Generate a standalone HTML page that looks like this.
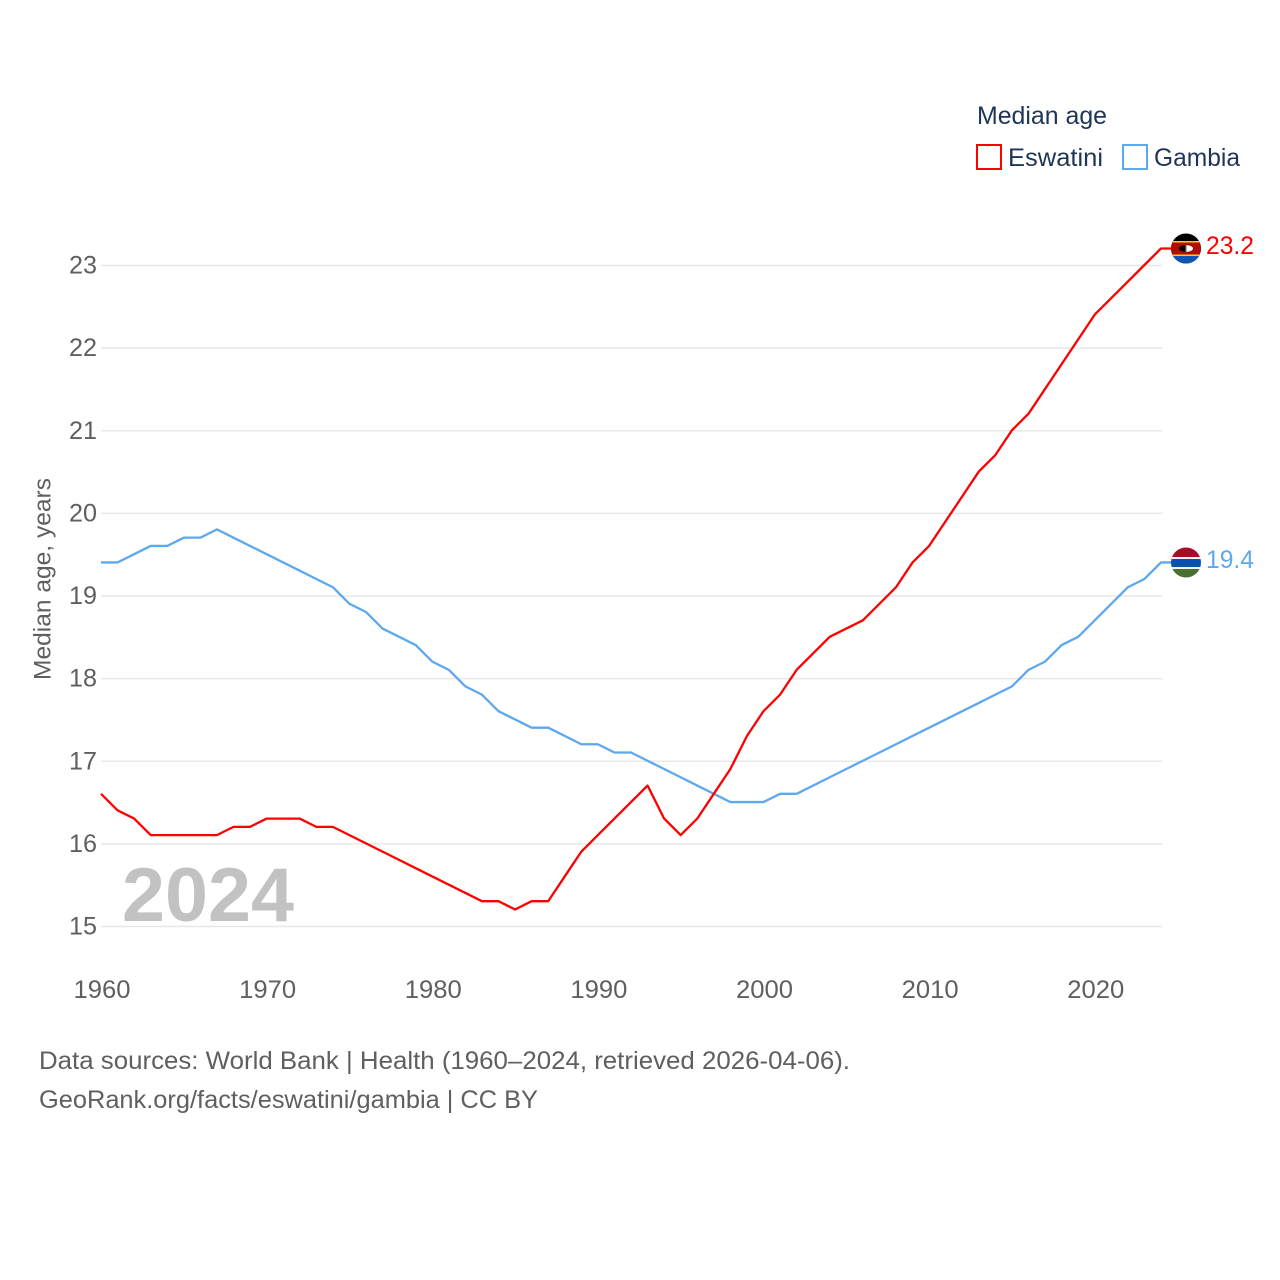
<!DOCTYPE html>
<html>
<head>
<meta charset="utf-8">
<title>Median age: Eswatini and Gambia</title>
<style>
html,body{margin:0;padding:0;background:#fff;}
svg{display:block;}
text{font-family:"Liberation Sans",sans-serif;}
</style>
</head>
<body>
<svg id="chart" xmlns="http://www.w3.org/2000/svg" width="1280" height="1280" viewBox="0 0 1280 1280">
  <defs>
    <clipPath id="clip-esw"><circle cx="1186" cy="248.5" r="15"/></clipPath>
    <clipPath id="clip-gam"><circle cx="1186" cy="562.5" r="15"/></clipPath>
  </defs>
  <rect width="1280" height="1280" fill="#ffffff"/>
  <g id="grid"></g>
  <g id="yticks"></g>
  <g id="xticks"></g>
  <text x="122" y="921" font-size="76" font-weight="700" fill="#c2c2c2" textLength="172" lengthAdjust="spacingAndGlyphs">2024</text>
  <text transform="translate(50.5 680) rotate(-90)" font-size="24.5" fill="#5f5f5f" textLength="202" lengthAdjust="spacingAndGlyphs">Median age, years</text>
  <g id="series"></g>

  <g clip-path="url(#clip-esw)">
    <rect x="1171" y="233" width="30" height="31" fill="#000000"/>
    <rect x="1171" y="241" width="30" height="1.5" fill="#f5d000"/>
    <rect x="1171" y="242.5" width="30" height="12" fill="#b10c0c"/>
    <rect x="1171" y="254.5" width="30" height="1.5" fill="#f5d000"/>
    <rect x="1171" y="256" width="30" height="9" fill="#0f55b4"/>
    <ellipse cx="1186" cy="248.5" rx="7" ry="3.4" fill="#000000"/>
    <path d="M1186 245.1a7 3.4 0 0 1 0 6.8z" fill="#ffffff"/>
    <rect x="1185" y="245.5" width="1.5" height="6" fill="#555555"/>
  </g>
  <g clip-path="url(#clip-gam)">
    <rect x="1171" y="547" width="30" height="10" fill="#a60d26"/>
    <rect x="1171" y="557" width="30" height="2" fill="#f2f2f2"/>
    <rect x="1171" y="559" width="30" height="8" fill="#0a50ad"/>
    <rect x="1171" y="567" width="30" height="2" fill="#f2f2f2"/>
    <rect x="1171" y="569" width="30" height="10" fill="#4a7030"/>
  </g>
  <text x="1206" y="254" font-size="25" fill="#ff0000" textLength="48" lengthAdjust="spacingAndGlyphs">23.2</text>
  <text x="1206" y="568" font-size="25" fill="#5ea8ee" textLength="48" lengthAdjust="spacingAndGlyphs">19.4</text>

  <g>
    <text x="977" y="124" font-size="25" fill="#1d3557" textLength="130" lengthAdjust="spacingAndGlyphs">Median age</text>
    <rect x="977" y="145" width="24" height="24" fill="none" stroke="#ff0000" stroke-width="2"/>
    <text x="1008" y="166" font-size="25" fill="#1d3557" textLength="95" lengthAdjust="spacingAndGlyphs">Eswatini</text>
    <rect x="1123" y="145" width="24" height="24" fill="none" stroke="#5ea8ee" stroke-width="2"/>
    <text x="1154" y="166" font-size="25" fill="#1d3557" textLength="86" lengthAdjust="spacingAndGlyphs">Gambia</text>
  </g>

  <text x="39" y="1069" font-size="25" fill="#5f5f5f" textLength="811" lengthAdjust="spacingAndGlyphs">Data sources: World Bank | Health (1960–2024, retrieved 2026-04-06).</text>
  <text x="39" y="1108" font-size="25" fill="#5f5f5f" textLength="499" lengthAdjust="spacingAndGlyphs">GeoRank.org/facts/eswatini/gambia | CC BY</text>
</svg>
<script>
const firstYear = 1960;
const eswatiniValues = [16.6,16.4,16.3,16.1,16.1,16.1,16.1,16.1,16.2,16.2,16.3,16.3,16.3,16.2,16.2,16.1,16.0,15.9,15.8,15.7,15.6,15.5,15.4,15.3,15.3,15.2,15.3,15.3,15.6,15.9,16.1,16.3,16.5,16.7,16.3,16.1,16.3,16.6,16.9,17.3,17.6,17.8,18.1,18.3,18.5,18.6,18.7,18.9,19.1,19.4,19.6,19.9,20.2,20.5,20.7,21.0,21.2,21.5,21.8,22.1,22.4,22.6,22.8,23.0,23.2];
const gambiaValues = [19.4,19.4,19.5,19.6,19.6,19.7,19.7,19.8,19.7,19.6,19.5,19.4,19.3,19.2,19.1,18.9,18.8,18.6,18.5,18.4,18.2,18.1,17.9,17.8,17.6,17.5,17.4,17.4,17.3,17.2,17.2,17.1,17.1,17.0,16.9,16.8,16.7,16.6,16.5,16.5,16.5,16.6,16.6,16.7,16.8,16.9,17.0,17.1,17.2,17.3,17.4,17.5,17.6,17.7,17.8,17.9,18.1,18.2,18.4,18.5,18.7,18.9,19.1,19.2,19.4];
const yTickValues = [15,16,17,18,19,20,21,22,23];
const xTickYears = [1960,1970,1980,1990,2000,2010,2020];

const NS = 'http://www.w3.org/2000/svg';
function xScale(year){ return 101 + (year - 1960) * (1060 / 64); }
function yScale(v){ return 926.5 - (v - 15) * (661 / 8); }

const gridGroup = document.getElementById('grid');
const yGroup = document.getElementById('yticks');
const xGroup = document.getElementById('xticks');
const seriesGroup = document.getElementById('series');

yTickValues.forEach(function(v){
  const line = document.createElementNS(NS, 'line');
  
  
  line.setAttribute('x1', 101);
  line.setAttribute('x2', 1162);
  line.setAttribute('y1', yScale(v));
  line.setAttribute('y2', yScale(v));
  line.setAttribute('stroke', '#e8e8e8');
  line.setAttribute('stroke-width', '1.5');
  gridGroup.appendChild(line);

  const label = document.createElementNS(NS, 'text');
  
  
  label.setAttribute('x', 69);
  label.setAttribute('y', yScale(v) + 8);
  label.setAttribute('font-size', '25');
  label.setAttribute('fill', '#5f5f5f');
  label.setAttribute('textLength', '28');
  label.setAttribute('lengthAdjust', 'spacingAndGlyphs');
  label.textContent = String(v);
  yGroup.appendChild(label);
});

xTickYears.forEach(function(year){
  const label = document.createElementNS(NS, 'text');
  
  
  label.setAttribute('x', xScale(year) - 27.5);
  label.setAttribute('y', 998);
  label.setAttribute('font-size', '25');
  label.setAttribute('fill', '#5f5f5f');
  label.setAttribute('textLength', '57');
  label.setAttribute('lengthAdjust', 'spacingAndGlyphs');
  label.textContent = String(year);
  xGroup.appendChild(label);
});

function drawSeries(values, color, name){
  const pts = values.map(function(v, i){
    return xScale(firstYear + i).toFixed(2) + ',' + (yScale(v) - 0.5).toFixed(2);
  });
  const lastY = (yScale(values[values.length - 1]) - 0.5).toFixed(2);
  pts.push('1172,' + lastY);
  const line = document.createElementNS(NS, 'polyline');
  
  
  line.setAttribute('points', pts.join(' '));
  line.setAttribute('fill', 'none');
  line.setAttribute('stroke', color);
  line.setAttribute('stroke-width', '2.3');
  line.setAttribute('stroke-linejoin', 'round');
  seriesGroup.appendChild(line);
}
drawSeries(gambiaValues, '#5ea8ee', 'gambia-line');
drawSeries(eswatiniValues, '#ff0000', 'eswatini-line');
</script>
</body>
</html>
